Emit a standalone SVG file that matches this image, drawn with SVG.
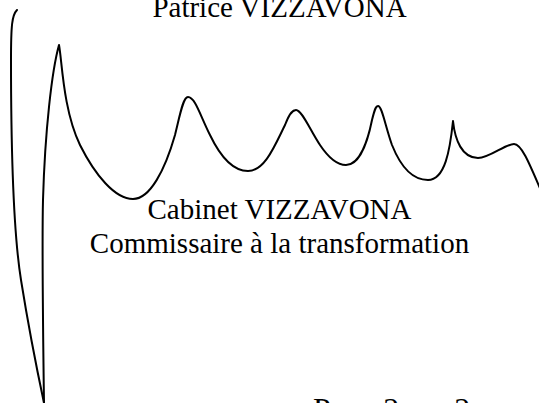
<svg xmlns="http://www.w3.org/2000/svg" width="539" height="403" viewBox="0 0 539 403">
<style>
.t{font-family:"Liberation Serif","Times New Roman",serif;font-size:29px;fill:#000}
.s{fill:none;stroke:#000;stroke-width:2;stroke-linecap:round;stroke-linejoin:round}
</style>
<rect width="539" height="403" fill="#fff"/>
<g id="signature">
<path class="s" d="M17,10 C12,15 11,25 11,60 C11,150 13,230 21,280 C29,330 37,370 44,403"/>
<path class="s" d="M44,403 C43,330 42,240 43,200 C45,130 52,70 59,45 C62,60 63,110 80,145 C95,175 115,199 133,199 C150,199 165,170 175,135 C180,115 183,97 188,97 C195,97 200,115 210,135 C222,160 235,171 248,171 C265,171 275,145 285,125 C290,112 293,110 296,110 C302,110 310,130 320,145 C330,160 338,165 346,165 C360,165 368,140 372,120 C375,108 376,106 378,106 C382,106 385,125 392,145 C402,170 415,180 428,180 C445,180 450,150 453,121 C455,140 462,158 478,158 C490,158 505,144 514,144 C522,144 530,165 545,200"/>
</g>
<g id="texts">
<text class="t" x="279.5" y="17" text-anchor="middle">Patrice VIZZAVONA</text>
<text class="t" x="279.5" y="219" text-anchor="middle">Cabinet VIZZAVONA</text>
<text class="t" x="279.5" y="253" text-anchor="middle">Commissaire à la transformation</text>
<text class="t" x="313" y="420" style="font-size:32px">Page 2 sur 2</text>
</g>
</svg>
